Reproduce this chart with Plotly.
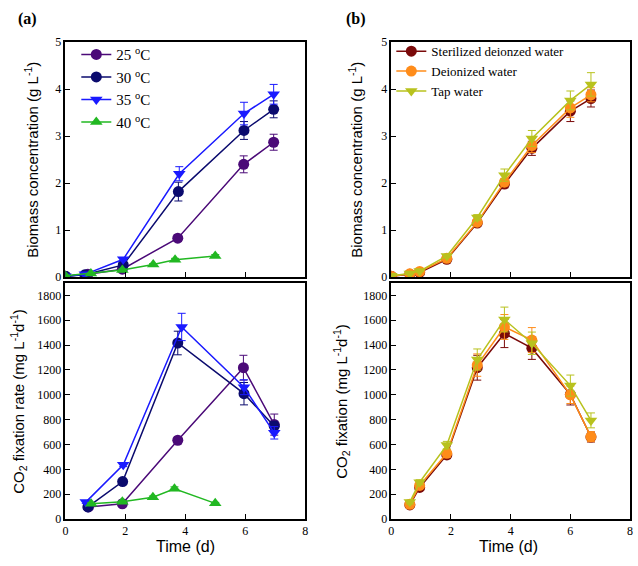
import plotly.graph_objects as go

# ---------------- data: panel (a) ----------------
a_x25 = [0, 0.75, 1.9, 3.75, 5.95, 6.95]
a_bio25 = [0.02, 0.06, 0.17, 0.83, 2.40, 2.87]
a_bio25_err = [0.01, 0.01, 0.02, 0.07, 0.18, 0.17]
a_x30 = [0, 0.65, 1.93, 3.77, 5.96, 6.95]
a_bio30 = [0.02, 0.05, 0.26, 1.82, 3.12, 3.57]
a_bio30_err = [0.01, 0.01, 0.03, 0.20, 0.19, 0.18]
a_x35 = [0, 0.65, 1.93, 3.80, 5.96, 6.95]
a_bio35 = [0.02, 0.06, 0.38, 2.20, 3.48, 3.89]
a_bio35_err = [0.01, 0.01, 0.03, 0.15, 0.24, 0.21]
a_x40 = [0, 0.85, 1.9, 2.93, 3.66, 5.0]
a_bio40 = [0.03, 0.08, 0.15, 0.27, 0.37, 0.45]
a_bio40_err = [0.01, 0.01, 0.02, 0.02, 0.03, 0.03]

c_x25 = [0.77, 1.9, 3.75, 5.94, 6.97]
c_co2_25 = [97, 123, 634, 1218, 760]
c_co2_25_err = [10, 10, 22, 100, 85]
c_x30 = [0.75, 1.91, 3.75, 5.96, 6.97]
c_co2_30 = [97, 301, 1417, 1009, 747]
c_co2_30_err = [10, 12, 95, 90, 40]
c_x35 = [0.68, 1.93, 3.88, 5.96, 6.97]
c_co2_35 = [136, 437, 1546, 1061, 694]
c_co2_35_err = [10, 15, 110, 60, 50]
c_x40 = [0.86, 1.9, 2.92, 3.64, 5.0]
c_co2_40 = [123, 139, 175, 244, 126]
c_co2_40_err = [8, 8, 10, 15, 8]

# ---------------- data: panel (b) ----------------
b_x = [0, 0.62, 0.95, 1.86, 2.88, 3.79, 4.71, 6.0, 6.69]
b_bio_ster = [0.02, 0.06, 0.10, 0.38, 1.15, 1.98, 2.74, 3.53, 3.80]
b_bio_ster_err = [0.01, 0.01, 0.01, 0.03, 0.06, 0.08, 0.15, 0.22, 0.18]
b_bio_deion = [0.02, 0.07, 0.12, 0.40, 1.17, 2.02, 2.80, 3.60, 3.88]
b_bio_deion_err = [0.01, 0.01, 0.01, 0.03, 0.06, 0.08, 0.15, 0.20, 0.15]
b_bio_tap = [0.03, 0.08, 0.13, 0.45, 1.27, 2.17, 2.95, 3.76, 4.10]
b_bio_tap_err = [0.01, 0.01, 0.01, 0.03, 0.06, 0.13, 0.17, 0.20, 0.25]

d_x = [0.62, 0.95, 1.86, 2.88, 3.79, 4.71, 6.0, 6.69]
d_co2_ster = [113, 254, 516, 1218, 1493, 1375, 1003, 660]
d_co2_ster_err = [15, 20, 30, 100, 113, 90, 85, 40]
d_co2_deion = [118, 270, 529, 1239, 1546, 1441, 1000, 663]
d_co2_deion_err = [15, 20, 30, 90, 100, 100, 70, 40]
d_co2_tap = [136, 296, 595, 1284, 1606, 1415, 1074, 794]
d_co2_tap_err = [15, 20, 30, 85, 100, 90, 85, 60]

names_a = ["25 <sup>o</sup>C", "30 <sup>o</sup>C", "35 <sup>o</sup>C", "40 <sup>o</sup>C"]
names_b = ["Sterilized deionzed water", "Deionized water", "Tap water"]

col_a = ["#4b0a78", "#0b0b6e", "#1a1aff", "#22b822"]
sym_a = ["circle", "circle", "triangle-down", "triangle-up"]
col_b = ["#7a0a0a", "#ff8c1a", "#b8c21e"]
sym_b = ["circle", "circle", "triangle-down"]

fig = go.Figure()

def add(x, y, err, color, symbol, name, xa, ya, legend, show):
    fig.add_trace(go.Scatter(
        x=x, y=y, mode="lines+markers", name=name,
        line=dict(color=color, width=1.5),
        marker=dict(color=color, symbol=symbol, size=11),
        error_y=dict(type="data", array=err, color=color, thickness=1, width=4),
        xaxis=xa, yaxis=ya, legend=legend, showlegend=show,
    ))

a_top = [(a_x25, a_bio25, a_bio25_err), (a_x30, a_bio30, a_bio30_err),
         (a_x35, a_bio35, a_bio35_err), (a_x40, a_bio40, a_bio40_err)]
a_bot = [(c_x25, c_co2_25, c_co2_25_err), (c_x30, c_co2_30, c_co2_30_err),
         (c_x35, c_co2_35, c_co2_35_err), (c_x40, c_co2_40, c_co2_40_err)]
for i, (x, y, e) in enumerate(a_top):
    add(x, y, e, col_a[i], sym_a[i], names_a[i], "x", "y", "legend", True)
for i, (x, y, e) in enumerate(a_bot):
    add(x, y, e, col_a[i], sym_a[i], names_a[i], "x2", "y2", "legend", False)

b_top = [(b_bio_ster, b_bio_ster_err), (b_bio_deion, b_bio_deion_err), (b_bio_tap, b_bio_tap_err)]
b_bot = [(d_co2_ster, d_co2_ster_err), (d_co2_deion, d_co2_deion_err), (d_co2_tap, d_co2_tap_err)]
for i, (y, e) in enumerate(b_top):
    add(b_x, y, e, col_b[i], sym_b[i], names_b[i], "x3", "y3", "legend2", True)
for i, (y, e) in enumerate(b_bot):
    add(d_x, y, e, col_b[i], sym_b[i], names_b[i], "x4", "y4", "legend2", False)

W, H = 638, 566
dom_a = [63 / W, 305 / W]
dom_b = [392 / W, 633 / W]
dom_top = [(H - 277) / H, (H - 36) / H]
dom_bot = [(H - 525) / H, (H - 283) / H]

serif = "Liberation Serif, Times New Roman, serif"
sansf = "Liberation Sans, Arial, sans-serif"
tickfont = dict(family=serif, size=12, color="black")
common = dict(showline=True, linecolor="black", linewidth=1.5, mirror=True,
              ticks="inside", ticklen=5, tickcolor="black", tickwidth=1,
              showgrid=False, zeroline=False, tickfont=tickfont)

xt_vals = [0, 2, 4, 6, 8]
fig.update_layout(
    width=W, height=H, margin=dict(l=0, r=0, t=0, b=0),
    plot_bgcolor="white", paper_bgcolor="white",
    xaxis=dict(domain=dom_a, anchor="y", range=[0, 8], tickvals=xt_vals, showticklabels=False, **common),
    yaxis=dict(domain=dom_top, anchor="x", range=[0, 5], tickvals=[0, 1, 2, 3, 4, 5], **common),
    xaxis2=dict(domain=dom_a, anchor="y2", range=[0, 8], tickvals=xt_vals, **common),
    yaxis2=dict(domain=dom_bot, anchor="x2", range=[0, 1900], tickvals=list(range(0, 1801, 200)), **common),
    xaxis3=dict(domain=dom_b, anchor="y3", range=[0, 8], tickvals=xt_vals, showticklabels=False, **common),
    yaxis3=dict(domain=dom_top, anchor="x3", range=[0, 5], tickvals=[0, 1, 2, 3, 4, 5], **common),
    xaxis4=dict(domain=dom_b, anchor="y4", range=[0, 8], tickvals=xt_vals, **common),
    yaxis4=dict(domain=dom_bot, anchor="x4", range=[0, 1900], tickvals=list(range(0, 1801, 200)), **common),
    legend=dict(x=74 / W, y=(H - 32) / H, xanchor="left", yanchor="top",
                bgcolor="rgba(0,0,0,0)", font=dict(family=serif, size=15, color="black")),
    legend2=dict(x=392 / W, y=(H - 30) / H, xanchor="left", yanchor="top",
                 bgcolor="rgba(0,0,0,0)", font=dict(family=serif, size=13, color="black")),
    showlegend=True,
)

sans = dict(family=sansf, size=15, color="black")
ann = [
    dict(text="Biomass concentration (g L<sup>-1</sup>)", x=28 / W, y=(H - 157) / H, textangle=-90, font=sans),
    dict(text="CO<sub>2</sub> fixation rate (mg L<sup>-1</sup>d<sup>-1</sup>)", x=15 / W, y=(H - 404) / H, textangle=-90, font=sans),
    dict(text="Biomass concentration (g L<sup>-1</sup>)", x=355 / W, y=(H - 157) / H, textangle=-90, font=sans),
    dict(text="CO<sub>2</sub> fixation (mg L<sup>-1</sup>d<sup>-1</sup>)", x=341 / W, y=(H - 404) / H, textangle=-90, font=sans),
    dict(text="Time (d)", x=184 / W, y=(H - 553) / H, font=dict(family=sansf, size=16, color="black")),
    dict(text="Time (d)", x=510 / W, y=(H - 553) / H, font=dict(family=sansf, size=16, color="black")),
    dict(text="<b>(a)</b>", x=25 / W, y=(H - 12) / H, font=dict(family=serif, size=16, color="black")),
    dict(text="<b>(b)</b>", x=356 / W, y=(H - 12) / H, font=dict(family=serif, size=16, color="black")),
]
for a in ann:
    a.update(xref="paper", yref="paper", showarrow=False, xanchor="center", yanchor="middle")
fig.update_layout(annotations=ann)

fig.write_html(
    "out.html",
    config={"displayModeBar": False},
    post_script="document.body.style.margin='0';document.body.style.padding='0';document.documentElement.style.overflow='hidden';",
)
